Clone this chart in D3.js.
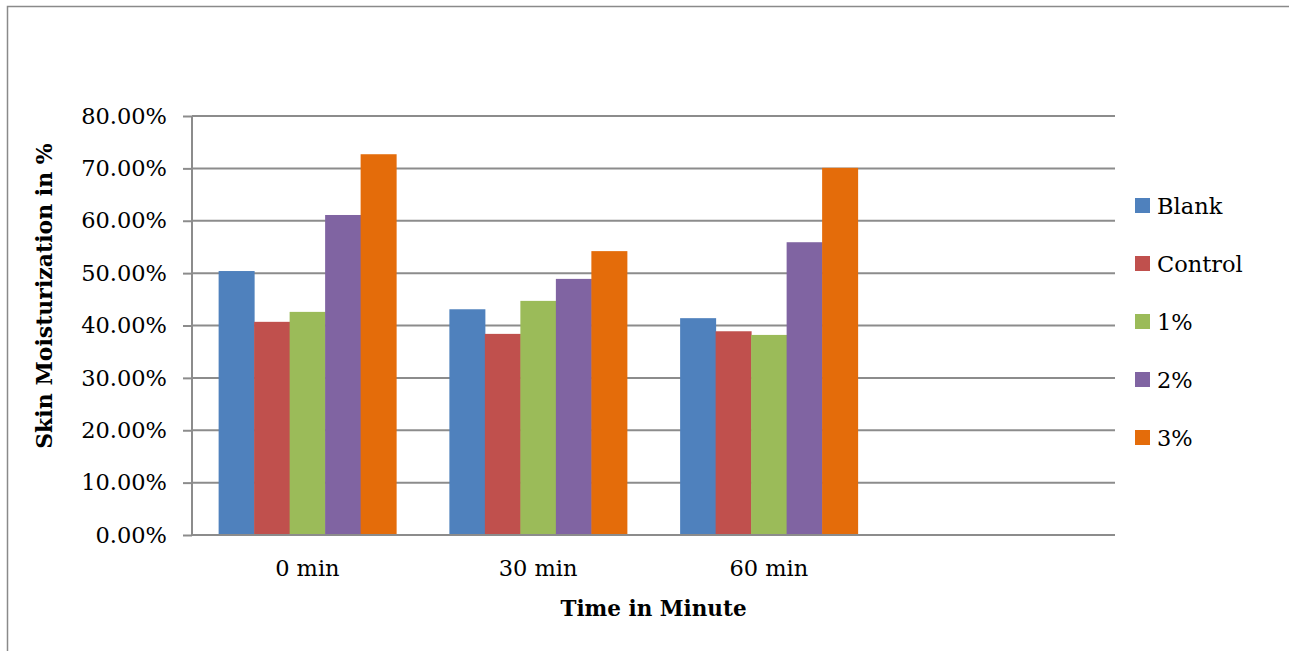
<!DOCTYPE html>
<html>
<head>
<meta charset="utf-8">
<script src="https://cdn.jsdelivr.net/npm/d3@7"></script>
<style>
  body { margin: 0; background: #fff; }
  svg { display: block; font-family: "DejaVu Serif", serif; }
</style>
</head>
<body>
<svg id="chart"></svg>
<script>
// categories (4th slot is empty in the original chart)
const categories = ['0 min', '30 min', '60 min', '']
const seriesNames = ['Blank', 'Control', '1%', '2%', '3%']
const seriesColors = ['#4F81BD', '#C0504D', '#9BBB59', '#8064A2', '#E46C0A']

// values in % per series, by time
const blank = [50.4, 43.1, 41.4]
const control = [40.7, 38.4, 38.9]
const onePct = [42.6, 44.7, 38.2]
const twoPct = [61.1, 48.9, 55.9]
const threePct = [72.7, 54.2, 70.1]

const yTicks = [0, 10, 20, 30, 40, 50, 60, 70, 80]

const seriesValues = [blank, control, onePct, twoPct, threePct]

const W = 1289, H = 651
const margin = { top: 116, right: 174, bottom: 116, left: 192 }
const width = W - margin.left - margin.right
const height = H - margin.top - margin.bottom

const svg = d3.select('#chart').attr('width', W).attr('height', H)

// outer chart frame (cut off at right and bottom)
svg.append('rect')
    .attr('x', 7.5).attr('y', 6.5)
    .attr('width', 1400).attr('height', 800)
    .attr('fill', 'none')
    .attr('stroke', '#8a8a8a')
    .attr('stroke-width', 1.5)

const chart = svg.append('g')
    .attr('transform', `translate(${margin.left}, ${margin.top})`)

const x0 = d3.scaleBand()
    .domain(categories)
    .range([0, width])
    .paddingInner(1.5 / 6.5)
    .paddingOuter(0.75 / 6.5)

const x1 = d3.scaleBand()
    .domain(seriesNames)
    .range([0, x0.bandwidth()])

const y = d3.scaleLinear()
    .domain([0, 80])
    .range([height, 0])

// gridlines
chart.append('g')
    .selectAll('line')
    .data(yTicks.filter(d => d > 0))
    .join('line')
        .attr('x1', 0).attr('x2', width)
        .attr('y1', d => y(d)).attr('y2', d => y(d))
        .attr('stroke', '#8c8c8c')
        .attr('stroke-width', 2)

// bars
const rows = categories.slice(0, 3).map((c, i) => ({
    cat: c,
    vals: seriesNames.map((s, j) => ({ key: s, value: seriesValues[j][i], color: seriesColors[j] }))
}))

chart.append('g')
    .selectAll('g')
    .data(rows)
    .join('g')
        .attr('transform', d => `translate(${x0(d.cat)}, 0)`)
    .selectAll('rect')
    .data(d => d.vals)
    .join('rect')
        .attr('x', d => x1(d.key))
        .attr('width', x1.bandwidth() + 0.5)
        .attr('y', d => y(d.value))
        .attr('height', d => height - y(d.value))
        .attr('fill', d => d.color)

// y axis
const yAxis = d3.axisLeft(y)
    .tickValues(yTicks)
    .tickSize(9)
    .tickPadding(16)
    .tickFormat(d => d.toFixed(2) + '%')

const yAxisGroup = chart.append('g').call(yAxis)
yAxisGroup.select('.domain')
    .attr('stroke', '#8c8c8c').attr('stroke-width', 2)
    .attr('d', `M0,0V${height + 1}`)
yAxisGroup.selectAll('.tick line').attr('stroke', '#8c8c8c').attr('stroke-width', 2)
yAxisGroup.selectAll('.tick text')
    .attr('font-family', '"DejaVu Serif", serif')
    .attr('font-size', 22.5)
    .attr('fill', '#000')

// x axis
const xAxis = d3.axisBottom(x0).tickSize(0).tickPadding(25)
const xAxisGroup = chart.append('g')
    .attr('transform', `translate(0, ${height})`)
    .call(xAxis)
xAxisGroup.select('.domain')
    .attr('stroke', '#8c8c8c').attr('stroke-width', 2)
    .attr('d', `M0,0H${width}`)
xAxisGroup.selectAll('.tick text')
    .attr('font-family', '"DejaVu Serif", serif')
    .attr('font-size', 22.5)
    .attr('fill', '#000')

// axis titles
svg.append('text')
    .attr('x', margin.left + width / 2)
    .attr('y', 616)
    .attr('text-anchor', 'middle')
    .attr('font-size', 21.5)
    .attr('font-weight', 'bold')
    .text('Time in Minute')

svg.append('text')
    .attr('transform', 'translate(52, 296) rotate(-90)')
    .attr('text-anchor', 'middle')
    .attr('font-size', 22)
    .attr('font-weight', 'bold')
    .text('Skin Moisturization in %')

// legend
const legend = svg.append('g')
    .selectAll('g')
    .data(seriesNames)
    .join('g')
        .attr('transform', (d, i) => `translate(1135, ${198 + i * 58})`)

legend.append('rect')
    .attr('width', 15).attr('height', 15)
    .attr('fill', (d, i) => seriesColors[i])

legend.append('text')
    .attr('x', 22)
    .attr('y', 16)
    .attr('font-size', 22.5)
    .text(d => d)
</script>
</body>
</html>
